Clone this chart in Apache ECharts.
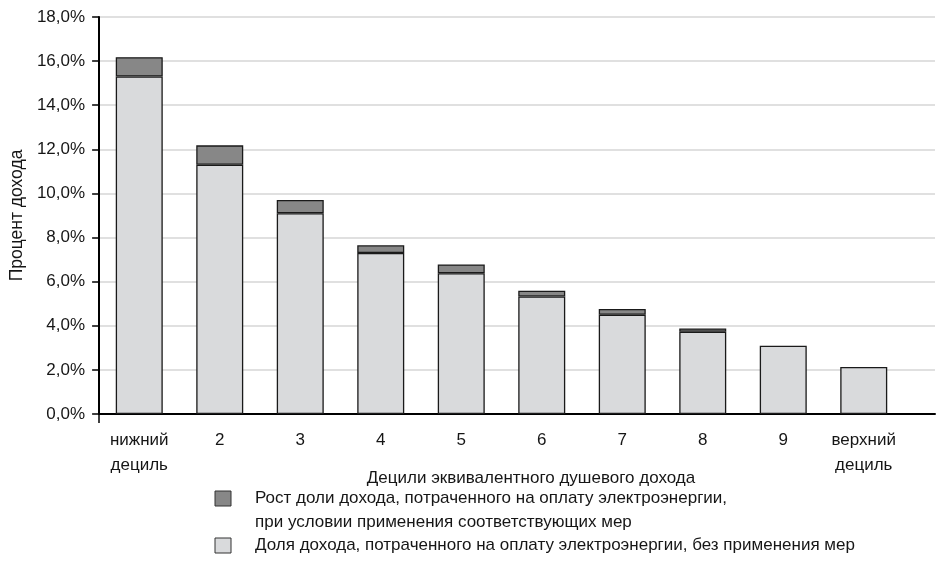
<!DOCTYPE html>
<html>
<head>
<meta charset="utf-8">
<script src="https://cdn.jsdelivr.net/npm/echarts@6/dist/echarts.min.js"></script>
<style>
  html, body { margin: 0; padding: 0; background: #fff; }
  #chart { width: 940px; height: 587px; }
</style>
</head>
<body>
<div id="chart"></div>
<script>
// Income deciles (bottom to top)
const categories = ['нижний\nдециль', '2', '3', '4', '5', '6', '7', '8', '9', 'верхний\nдециль'];
// Share of income spent on electricity without measures, %
const baseShare = [15.3, 11.3, 9.1, 7.3, 6.38, 5.33, 4.5, 3.73, 3.1, 2.13];
// Increase of that share when the measures are applied, %
const increaseShare = [0.88, 0.88, 0.6, 0.35, 0.4, 0.26, 0.26, 0.15, null, null];
// Y-axis ticks
const yMin = 0, yMax = 18, yStep = 2;

const seriesNames = [
  'Рост доли дохода, потраченного на оплату электроэнергии,\nпри условии применения соответствующих мер',
  'Доля дохода, потраченного на оплату электроэнергии, без применения мер'
];
const xAxisTitle = 'Децили эквивалентного душевого дохода';
const yAxisTitle = 'Процент дохода';

const FONT = '"Liberation Sans", Arial, sans-serif';
const TEXT = '#161616';
const LIGHT = '#d9dadc';
const DARK = '#878787';
const EDGE = '#1a1a1a';

const chart = echarts.init(document.getElementById('chart'), null, { renderer: 'canvas' });

const fmtPct = v => v.toFixed(1).replace('.', ',') + '%';

chart.setOption({
  animation: false,
  textStyle: { fontFamily: FONT },
  grid: [
    // full-width frame: gridlines, y axis and baseline
    { left: 99, right: 5, top: 17, bottom: 173 },
    // bar area
    { left: 99, width: 805, top: 17, bottom: 173 }
  ],
  xAxis: [
    {
      gridIndex: 0, type: 'value', min: 0, max: 1,
      axisLine: { show: true, lineStyle: { color: '#000', width: 2 } },
      axisTick: { show: false }, axisLabel: { show: false }, splitLine: { show: false }
    },
    {
      gridIndex: 1, type: 'category', data: categories,
      axisLine: { show: false },
      axisTick: { show: false },
      axisLabel: { color: TEXT, fontSize: 17, lineHeight: 25, margin: 14, fontFamily: FONT, interval: 0 }
    }
  ],
  yAxis: [
    {
      gridIndex: 0, type: 'value', min: yMin, max: yMax, interval: yStep,
      name: yAxisTitle, nameLocation: 'middle', nameGap: 63,
      nameTextStyle: { color: TEXT, fontSize: 17.5, fontFamily: FONT },
      axisLine: { show: true, lineStyle: { color: '#000', width: 2 } },
      axisTick: { show: true, length: 7, lineStyle: { color: '#000', width: 1.5 } },
      axisLabel: { color: TEXT, fontSize: 17, margin: 14, formatter: fmtPct, fontFamily: FONT },
      splitLine: { show: true, lineStyle: { color: '#d6d6d6', width: 1.5 } }
    },
    {
      gridIndex: 1, type: 'value', min: yMin, max: yMax, interval: yStep, show: false,
      splitLine: { show: false }
    }
  ],
  series: [
    {
      name: seriesNames[1], type: 'bar', stack: 'share',
      xAxisIndex: 1, yAxisIndex: 1, barWidth: 47,
      data: baseShare,
      itemStyle: { color: LIGHT, borderColor: EDGE, borderWidth: 1.3 }
    },
    {
      name: seriesNames[0], type: 'bar', stack: 'share',
      xAxisIndex: 1, yAxisIndex: 1, barWidth: 47,
      data: increaseShare,
      itemStyle: { color: DARK, borderColor: EDGE, borderWidth: 1.3 }
    }
  ],
  graphic: [
    // short tick below the origin
    {
      type: 'line', shape: { x1: 99, y1: 414, x2: 99, y2: 423 },
      style: { stroke: '#000', lineWidth: 1.5 }
    },
    {
      type: 'text', x: 531, y: 478,
      style: { text: xAxisTitle, align: 'center', verticalAlign: 'middle',
               fill: TEXT, font: '17px ' + FONT }
    },
    {
      type: 'rect', shape: { x: 215, y: 491, width: 16, height: 15 },
      style: { fill: DARK, stroke: '#333', lineWidth: 1 }
    },
    {
      type: 'text', x: 255, y: 487,
      style: { text: seriesNames[0], fill: TEXT, font: '17px ' + FONT,
               lineHeight: 23.5, verticalAlign: 'top' }
    },
    {
      type: 'rect', shape: { x: 215, y: 538, width: 16, height: 15 },
      style: { fill: LIGHT, stroke: '#333', lineWidth: 1 }
    },
    {
      type: 'text', x: 255, y: 534,
      style: { text: seriesNames[1], fill: TEXT, font: '17px ' + FONT,
               lineHeight: 23.5, verticalAlign: 'top' }
    }
  ]
});
</script>
</body>
</html>
